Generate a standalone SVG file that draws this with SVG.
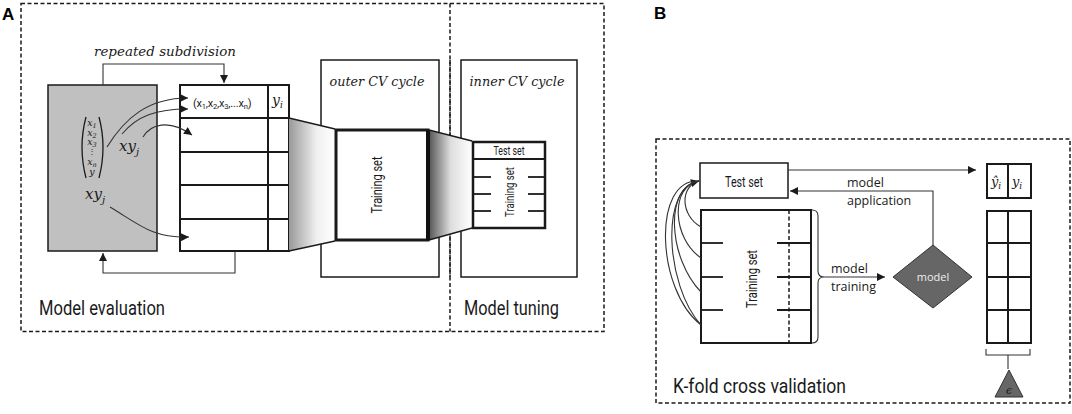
<svg xmlns="http://www.w3.org/2000/svg" width="1072" height="414" viewBox="0 0 1072 414">
<defs>
<style>
.cond{font-family:"Liberation Sans Narrow","Roboto","Liberation Sans",sans-serif;fill:#1a1a1a}
.ser{font-family:"DejaVu Serif","Liberation Serif",serif;font-style:italic;fill:#1a1a1a}
.sans{font-family:"Open Sans","Liberation Sans",sans-serif;fill:#1a1a1a}
.lbl{font-family:"Liberation Sans",Arial,sans-serif;font-weight:bold;font-size:17px;fill:#000}
.dash{fill:none;stroke:#1a1a1a;stroke-width:1.5;stroke-dasharray:4 2.5}
.thin{fill:none;stroke:#1a1a1a;stroke-width:1.3}
.box{fill:#fff;stroke:#1a1a1a;stroke-width:2}
.conn{fill:none;stroke:#333;stroke-width:1.1}
</style>
<marker id="ah" viewBox="0 0 10 10" refX="10" refY="5" markerWidth="9" markerHeight="8" markerUnits="userSpaceOnUse" orient="auto"><path d="M0,0 L10,5 L0,10z" fill="#1a1a1a"/></marker>
<linearGradient id="g1" x1="0" y1="0" x2="1" y2="0"><stop offset="0" stop-color="#999"/><stop offset="0.6" stop-color="#f0f0f0"/><stop offset="1" stop-color="#ffffff"/></linearGradient>
<linearGradient id="g2" x1="0" y1="0" x2="1" y2="0"><stop offset="0" stop-color="#555"/><stop offset="0.5" stop-color="#dddddd"/><stop offset="1" stop-color="#ffffff"/></linearGradient>
</defs>
<rect width="1072" height="414" fill="#fff"/>

<!-- Panel A -->
<g id="panelA">
<text class="lbl" x="2" y="20" font-size="18">A</text>
<rect class="dash" x="21" y="3.5" width="583" height="328"/>
<line class="dash" x1="450" y1="3.5" x2="450" y2="331.5"/>
<text class="cond" x="39" y="315" font-size="20" textLength="126" lengthAdjust="spacingAndGlyphs">Model evaluation</text>
<text class="cond" x="464" y="315" font-size="20" textLength="95" lengthAdjust="spacingAndGlyphs">Model tuning</text>
<text class="ser" x="165" y="56" font-size="12.5" text-anchor="middle" textLength="142" lengthAdjust="spacingAndGlyphs">repeated subdivision</text>
</g>

<g id="outerCV">
<rect x="321" y="60" width="118" height="217" fill="#fff" stroke="#1a1a1a" stroke-width="1.5"/>
<text class="ser" x="377" y="86" font-size="12.5" text-anchor="middle" textLength="95" lengthAdjust="spacingAndGlyphs">outer CV cycle</text>
</g>
<g id="innerCV">
<rect x="461" y="60" width="116" height="217" fill="#fff" stroke="#1a1a1a" stroke-width="1.5"/>
<text class="ser" x="517" y="86" font-size="12.5" text-anchor="middle" textLength="95" lengthAdjust="spacingAndGlyphs">inner CV cycle</text>
</g>
<line class="dash" x1="450" y1="60" x2="450" y2="277"/>

<g id="dataset">
<rect x="48" y="85" width="109" height="166" fill="#c0c0c0" stroke="#1a1a1a" stroke-width="1.5"/>
<path d="M86,117 Q78,147 86,178" class="thin" stroke-width="1"/>
<path d="M99,117 Q107,147 99,178" class="thin" stroke-width="1"/>
<g class="ser" font-size="9.5" text-anchor="middle">
<text x="92" y="126">x<tspan font-size="6.5" dy="1.5">1</tspan></text>
<text x="92" y="136">x<tspan font-size="6.5" dy="1.5">2</tspan></text>
<text x="92" y="145">x<tspan font-size="6.5" dy="1.5">3</tspan></text>
<text x="92" y="154" font-style="normal" font-size="8">⋮</text>
<text x="92" y="165">x<tspan font-size="6.5" dy="1.5">n</tspan></text>
<text x="92" y="175">y</text>
</g>
<text class="ser" x="119" y="151" font-size="15">xy<tspan font-size="10" dy="4">j</tspan></text>
<text class="ser" x="85" y="199" font-size="15">xy<tspan font-size="10" dy="4">j</tspan></text>
</g>

<g id="table">
<rect class="box" x="180" y="85" width="109" height="166"/>
<line x1="268" y1="85" x2="268" y2="251" stroke="#1a1a1a" stroke-width="2"/>
<g stroke="#1a1a1a" stroke-width="2">
<line x1="180" y1="118" x2="289" y2="118"/>
<line x1="180" y1="152" x2="289" y2="152"/>
<line x1="180" y1="185" x2="289" y2="185"/>
<line x1="180" y1="219" x2="289" y2="219"/>
</g>
<text class="cond" x="193" y="107" font-size="11" letter-spacing="-0.2">(x<tspan font-size="7.5" dy="2">1</tspan><tspan dy="-2">,x</tspan><tspan font-size="7.5" dy="2">2</tspan><tspan dy="-2">,x</tspan><tspan font-size="7.5" dy="2">3</tspan><tspan dy="-2">,...x</tspan><tspan font-size="7.5" dy="2">n</tspan><tspan dy="-2">)</tspan></text>
<text class="ser" x="272" y="105" font-size="14">y<tspan font-size="9" dy="3">i</tspan></text>
</g>

<g id="funnel1">
<polygon points="289,118 335,129 335,241 289,251" fill="url(#g1)"/>
<line x1="289" y1="118" x2="335" y2="129" stroke="#1a1a1a" stroke-width="1.3"/>
<line x1="289" y1="251" x2="335" y2="241" stroke="#1a1a1a" stroke-width="1.3"/>
</g>
<g id="trainOuter">
<rect x="336" y="130" width="92" height="110" fill="#fff" stroke="#1a1a1a" stroke-width="3"/>
<text class="cond" transform="translate(382,185) rotate(-90)" font-size="14" text-anchor="middle" textLength="57" lengthAdjust="spacingAndGlyphs">Training set</text>
</g>
<g id="funnel2">
<polygon points="429,130 472,141 472,228 429,240" fill="url(#g2)"/>
<line x1="429" y1="130" x2="472" y2="141" stroke="#1a1a1a" stroke-width="1.3"/>
<line x1="429" y1="240" x2="472" y2="228" stroke="#1a1a1a" stroke-width="1.3"/>
<line x1="428" y1="130" x2="428" y2="240" stroke="#111" stroke-width="4"/>
</g>
<g id="innerSplit">
<rect x="473" y="142" width="72" height="86" fill="#fff" stroke="#1a1a1a" stroke-width="2.5"/>
<line x1="473" y1="159" x2="545" y2="159" stroke="#1a1a1a" stroke-width="2"/>
<g stroke="#1a1a1a" stroke-width="1.8">
<line x1="473" y1="177" x2="491" y2="177"/><line x1="473" y1="194" x2="491" y2="194"/><line x1="473" y1="211" x2="491" y2="211"/>
<line x1="528" y1="177" x2="545" y2="177"/><line x1="528" y1="194" x2="545" y2="194"/><line x1="528" y1="211" x2="545" y2="211"/>
</g>
<text class="cond" x="509" y="155" font-size="12" text-anchor="middle" textLength="31" lengthAdjust="spacingAndGlyphs">Test set</text>
<text class="cond" transform="translate(514,192) rotate(-90)" font-size="13" text-anchor="middle" textLength="50" lengthAdjust="spacingAndGlyphs">Training set</text>
</g>

<g id="connectorsA">
<path class="conn" d="M103,85 V64 H224 V83" stroke="#1a1a1a" stroke-width="1.4" marker-end="url(#ah)"/>
<path class="conn" d="M235,251 V273 H103 V253" stroke="#1a1a1a" stroke-width="1.4" marker-end="url(#ah)"/>
<path class="conn" d="M107,147 C125,118 148,98 188,98" marker-end="url(#ah)"/>
<path class="conn" d="M122,134 C137,116 156,109 188,109" marker-end="url(#ah)"/>
<path class="conn" d="M143,137 C150,125 168,118 192,135" marker-end="url(#ah)"/>
<path class="conn" d="M110,207 C140,225 152,238 189,237" marker-end="url(#ah)"/>
</g>

<!-- Panel B -->
<g id="panelB">
<text class="lbl" x="654" y="19" font-size="18">B</text>
<rect class="dash" x="656" y="139" width="414" height="264"/>
<text class="cond" x="673" y="393" font-size="20" textLength="173" lengthAdjust="spacingAndGlyphs">K-fold cross validation</text>
</g>
<g id="testB">
<rect x="700" y="163" width="88" height="35" fill="#fff" stroke="#1a1a1a" stroke-width="1.5"/>
<text class="cond" x="744" y="187" font-size="14" text-anchor="middle" textLength="38" lengthAdjust="spacingAndGlyphs">Test set</text>
</g>
<g id="trainB">
<rect x="701" y="210" width="110" height="133" fill="#fff" stroke="#1a1a1a" stroke-width="2"/>
<line x1="789" y1="210" x2="789" y2="343" stroke="#1a1a1a" stroke-width="1.5" stroke-dasharray="4 2.5"/>
<g stroke="#1a1a1a" stroke-width="1.8">
<line x1="701" y1="243" x2="723" y2="243"/><line x1="701" y1="277" x2="723" y2="277"/><line x1="701" y1="310" x2="723" y2="310"/>
<line x1="777" y1="243" x2="811" y2="243"/><line x1="777" y1="277" x2="811" y2="277"/><line x1="777" y1="310" x2="811" y2="310"/>
</g>
<text class="cond" transform="translate(757,279) rotate(-90)" font-size="14" text-anchor="middle" textLength="58" lengthAdjust="spacingAndGlyphs">Training set</text>
</g>
<g id="modelB">
<polygon points="933,245 972,277 933,308 893,277" fill="#666" stroke="#333" stroke-width="1"/>
<text x="933" y="281" font-family="'Open Sans','Liberation Sans',sans-serif" font-size="11" fill="#eee" text-anchor="middle">model</text>
</g>
<g id="resultB">
<rect x="987" y="164" width="44" height="34" fill="#fff" stroke="#1a1a1a" stroke-width="2"/>
<line x1="1008" y1="164" x2="1008" y2="198" stroke="#1a1a1a" stroke-width="2"/>
<text class="ser" x="991" y="186" font-size="13">ŷ<tspan font-size="9" dy="3">i</tspan></text>
<text class="ser" x="1012" y="186" font-size="13">y<tspan font-size="9" dy="3">i</tspan></text>
<rect x="987" y="211" width="44" height="132" fill="#fff" stroke="#1a1a1a" stroke-width="2"/>
<g stroke="#1a1a1a" stroke-width="2">
<line x1="1008" y1="211" x2="1008" y2="343"/>
<line x1="987" y1="243" x2="1031" y2="243"/><line x1="987" y1="277" x2="1031" y2="277"/><line x1="987" y1="310" x2="1031" y2="310"/>
</g>
</g>
<g id="errorB">
<polygon points="1009,370 1023,397 995,397" fill="#666" stroke="#333" stroke-width="1"/>
<text class="ser" x="1009" y="394" font-size="11" fill="#e6e6e6" text-anchor="middle">ϵ</text>
</g>
<g id="connectorsB">
<path class="conn" d="M812,210 Q818,210 818,216 V271 Q818,277 824,277 Q818,277 818,283 V337 Q818,343 812,343" stroke="#1a1a1a"/>
<path class="conn" d="M986,349 V355 H1030 V349 M1008,355 V369" stroke="#1a1a1a"/>
<path class="conn" d="M824,277 H885" stroke="#1a1a1a" stroke-width="1.3" marker-end="url(#ah)"/>
<path class="conn" d="M788,170 H976" stroke="#1a1a1a" stroke-width="1.3" marker-end="url(#ah)"/>
<path class="conn" d="M933,245 V191 H790" stroke="#1a1a1a" stroke-width="1.3" marker-end="url(#ah)"/>
<path class="conn" d="M701,227 C680,215 680,186 699,181" stroke="#1a1a1a" marker-end="url(#ah)"/>
<path class="conn" d="M701,258 C672,238 670,186 699,181" stroke="#1a1a1a"/>
<path class="conn" d="M701,292 C668,258 664,186 699,181" stroke="#1a1a1a"/>
<path class="conn" d="M701,325 C665,285 660,186 699,181" stroke="#1a1a1a"/>
<path class="conn" d="M701,325 C656,290 652,178 699,181" stroke="#1a1a1a"/>
<text class="sans" x="831" y="273" font-size="12.5">model</text>
<text class="sans" x="831" y="291" font-size="12.5">training</text>
<text class="sans" x="847" y="187" font-size="12.5">model</text>
<text class="sans" x="847" y="205" font-size="12.5">application</text>
</g>
</svg>
